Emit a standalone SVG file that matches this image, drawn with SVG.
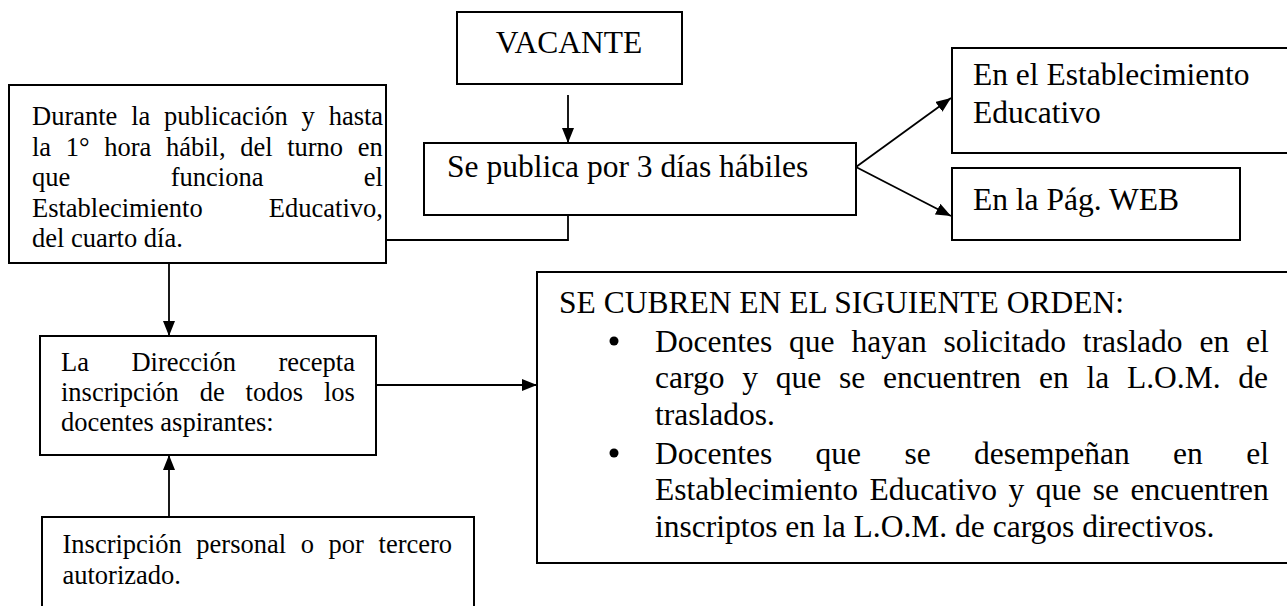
<svg xmlns="http://www.w3.org/2000/svg" width="1287" height="606" viewBox="0 0 1287 606">
<style>
.box{fill:#fff;stroke:#000;stroke-width:2}
.ln{fill:none;stroke:#000;stroke-width:1.8}
.big{font-family:"Liberation Serif","Times New Roman",serif;font-size:31.5px;fill:#000}
.sm{font-family:"Liberation Serif","Times New Roman",serif;font-size:26.5px;fill:#000}
</style>
<defs>
<marker id="ah" markerUnits="userSpaceOnUse" markerWidth="15" markerHeight="12" refX="15" refY="6" orient="auto">
<path d="M0,0 L15,6 L0,12 z" fill="#000"/>
</marker>
</defs>
<rect width="1287" height="606" fill="#fff"/>
<g id="connectors">
<line class="ln" x1="568" y1="95" x2="568" y2="143" marker-end="url(#ah)"/>
<polyline class="ln" points="568,215 568,240 345,240" marker-end="url(#ah)"/>
<line class="ln" x1="856" y1="167" x2="951" y2="98" marker-end="url(#ah)"/>
<line class="ln" x1="856" y1="167" x2="951" y2="216" marker-end="url(#ah)"/>
<line class="ln" x1="169" y1="263" x2="169" y2="336" marker-end="url(#ah)"/>
<line class="ln" x1="376" y1="385" x2="537" y2="385" marker-end="url(#ah)"/>
<line class="ln" x1="169" y1="517" x2="169" y2="455" marker-end="url(#ah)"/>
</g>
<g id="vacante">
<rect class="box" x="457" y="12" width="225" height="72"/>
<text class="big" x="569" y="53" text-anchor="middle">VACANTE</text>
</g>
<g id="publica">
<rect class="box" x="424" y="143" width="432" height="72"/>
<text class="big" x="447" y="177">Se publica por 3 días hábiles</text>
</g>
<g id="establecimiento">
<rect class="box" x="952" y="48" width="340" height="105"/>
<text class="big" x="973" y="85">En el Establecimiento</text>
<text class="big" x="973" y="123">Educativo</text>
</g>
<g id="web">
<rect class="box" x="952" y="168" width="288" height="72"/>
<text class="big" x="973" y="210">En la Pág. WEB</text>
</g>
<g id="durante">
<rect class="box" x="9" y="85" width="377" height="178"/>
<text class="sm" x="32" y="125" word-spacing="7.2">Durante la publicación y hasta</text>
<text class="sm" x="32" y="155.5" word-spacing="8">la 1° hora hábil, del turno en</text>
<text class="sm" x="32" y="186" word-spacing="93.8">que funciona el</text>
<text class="sm" x="32" y="216.5" word-spacing="59.5">Establecimiento Educativo,</text>
<text class="sm" x="32" y="247">del cuarto día.</text>
</g>
<g id="direccion">
<rect class="box" x="40" y="336" width="336" height="119"/>
<text class="sm" x="61" y="371" word-spacing="35.9">La Dirección recepta</text>
<text class="sm" x="61" y="401" word-spacing="14.3">inscripción de todos los</text>
<text class="sm" x="61" y="431">docentes aspirantes:</text>
</g>
<g id="inscripcion">
<rect class="box" x="42" y="517" width="432" height="100"/>
<text class="sm" x="62.5" y="553" word-spacing="8">Inscripción personal o por tercero</text>
<text class="sm" x="62.5" y="584">autorizado.</text>
</g>
<g id="orden">
<rect class="box" x="537" y="272" width="760" height="291"/>
<text class="big" x="559" y="313">SE CUBREN EN EL SIGUIENTE ORDEN:</text>
<circle cx="614" cy="341" r="4.5" fill="#000"/>
<text class="big" x="655" y="352" word-spacing="9">Docentes que hayan solicitado traslado en el</text>
<text class="big" x="655" y="388" word-spacing="9.9">cargo y que se encuentren en la L.O.M. de</text>
<text class="big" x="655" y="425">traslados.</text>
<circle cx="614" cy="453" r="4.5" fill="#000"/>
<text class="big" x="655" y="464" word-spacing="35.5">Docentes que se desempeñan en el</text>
<text class="big" x="655" y="500" word-spacing="3.6">Establecimiento Educativo y que se encuentren</text>
<text class="big" x="655" y="537">inscriptos en la L.O.M. de cargos directivos.</text>
</g>
</svg>
